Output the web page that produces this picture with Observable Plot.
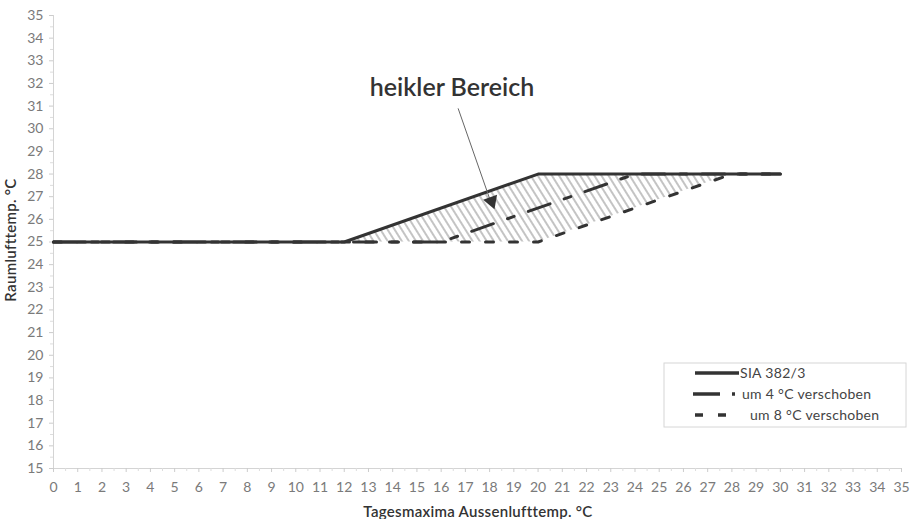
<!DOCTYPE html>
<html><head><meta charset="utf-8">
<script src="https://cdn.jsdelivr.net/npm/d3@7"></script>
<script src="https://cdn.jsdelivr.net/npm/@observablehq/plot@0.6"></script>
<style>
body{margin:0;background:#fff;} #chart{width:910px;height:519px;}
</style>
</head><body><div id="chart"></div>
<script>
// Data
const xTicks = d3.range(0, 36);          // 0..35
const yTicks = d3.range(15, 36);         // 15..35
const siaX = [0, 12, 20, 30];
const siaY = [25, 25, 28, 28];
const shift4X = [0, 16, 24, 30];
const shift4Y = [25, 25, 28, 28];
const shift8X = [0, 20, 28, 30];
const shift8Y = [25, 25, 28, 28];
const zoneX = [12, 20, 28];
const zoneTop = [25, 28, 28];
const zoneBottom = [25, 25, 28];
const seriesNames = ["SIA 382/3", "um 4 °C verschoben", "um 8 °C verschoben"];
const noteText = "heikler Bereich";
const noteAt = {x: 16.45, y: 31.8};
const arrowFrom = {x: 16.7, y: 30.9};
const arrowTo = {x: 18.12, y: 26.55};
const xTitle = "Tagesmaxima Aussenlufttemp. °C";
const yTitle = "Raumlufttemp. °C";

const toRows = (xs, ys) => xs.map((x, i) => ({x, y: ys[i]}));
const sia = toRows(siaX, siaY);
const s4 = toRows(shift4X, shift4Y);
const s8 = toRows(shift8X, shift8Y);
const zone = zoneX.map((x, i) => ({x, hi: zoneTop[i], lo: zoneBottom[i]}));

const lineColor = "#333";
const font = "Lato, 'Noto Sans', sans-serif";

const chart = Plot.plot({
  width: 910, height: 519,
  marginLeft: 53, marginRight: 9, marginTop: 15, marginBottom: 51,
  style: {fontFamily: font, fontSize: "14px", background: "#fff", overflow: "visible"},
  x: {domain: [0, 35]},
  y: {domain: [15, 35]},
  marks: [
    Plot.areaY(zone, {x: "x", y1: "lo", y2: "hi", fill: "url(#hatch)"}),
    Plot.ruleY([15], {stroke: "#d4d4d4"}),
    Plot.ruleX([0], {stroke: "#d4d4d4"}),
    Plot.axisX({ticks: d3.range(0.5, 35, 1), tickSize: 3, text: null, stroke: "#ddd", label: null}),
    Plot.axisY({ticks: d3.range(15.5, 35, 1), tickSize: 3, text: null, stroke: "#ddd", label: null}),
    Plot.axisX({ticks: xTicks, tickSize: 4, tickPadding: 10, tickFormat: d => String(d), fill: "#7a7a7a", stroke: "#ccc", label: null, fontSize: 14}),
    Plot.axisY({ticks: yTicks, tickSize: 4, tickPadding: 6, tickFormat: d => String(d), fill: "#7a7a7a", stroke: "#ccc", label: null, fontSize: 14}),
    Plot.line(s8, {x: "x", y: "y", stroke: lineColor, strokeWidth: 3, strokeDasharray: "8,16"}),
    Plot.line(s4, {x: "x", y: "y", stroke: lineColor, strokeWidth: 3, strokeDasharray: "23,15,7,15"}),
    Plot.line(sia, {x: "x", y: "y", stroke: lineColor, strokeWidth: 3}),
    Plot.link([0], {x1: () => arrowFrom.x, y1: () => arrowFrom.y, x2: () => arrowTo.x, y2: () => arrowTo.y, stroke: "#666", strokeWidth: 1}),
    Plot.dot([0], {x: () => arrowTo.x - 0.04, y: () => arrowTo.y + 0.25, symbol: "triangle", r: 5.5, fill: lineColor, stroke: "none", rotate: 160}),
    Plot.text([noteText], {x: () => noteAt.x, y: () => noteAt.y, text: d => d, fontSize: 25, fontWeight: 600, fill: "#333", fontFamily: font})
  ]
});

const svg = d3.select(chart);

const defs = svg.insert("defs", ":first-child");
const pat = defs.append("pattern").attr("id", "hatch").attr("patternUnits", "userSpaceOnUse")
  .attr("width", 6).attr("height", 6).attr("patternTransform", "rotate(-32)");
pat.append("line").attr("x1", 3).attr("y1", 0).attr("x2", 3).attr("y2", 6)
  .attr("stroke", "#b0b0b0").attr("stroke-width", 1.5);

// Axis titles
svg.append("text").attr("x", 478).attr("y", 517).attr("text-anchor", "middle")
  .attr("font-family", font).attr("font-size", 15).attr("font-weight", 600).attr("letter-spacing", "0.3px").attr("fill", "#333").text(xTitle);
svg.append("text").attr("transform", "translate(16,240) rotate(-90)").attr("text-anchor", "middle")
  .attr("font-family", font).attr("font-size", 15).attr("font-weight", 600).attr("letter-spacing", "0.3px").attr("fill", "#333").text(yTitle);

// Legend
const lg = svg.append("g").attr("text-anchor", "start");
lg.append("rect").attr("x", 664).attr("y", 363).attr("width", 242).attr("height", 64)
  .attr("fill", "#fff").attr("stroke", "#d6d6d6");
const rows = [
  {y: 373, x1: 695, x2: 739, dash: null, tx: 740},
  {y: 394, x1: 693, x2: 736, dash: "27,12,3,20", tx: 742},
  {y: 415, x1: 695, x2: 728, dash: "8,15", tx: 750}
];
rows.forEach((r, i) => {
  lg.append("line").attr("x1", r.x1).attr("x2", r.x2).attr("y1", r.y).attr("y2", r.y)
    .attr("stroke", lineColor).attr("stroke-width", 3.5).attr("stroke-dasharray", r.dash);
  lg.append("text").attr("x", r.tx).attr("y", r.y).attr("dy", "0.35em").attr("text-anchor", "start")
    .attr("font-family", font).attr("font-size", 14).attr("letter-spacing", "0.3px").attr("fill", "#444").text(seriesNames[i]);
});

document.getElementById("chart").appendChild(chart);
</script>
</body></html>
